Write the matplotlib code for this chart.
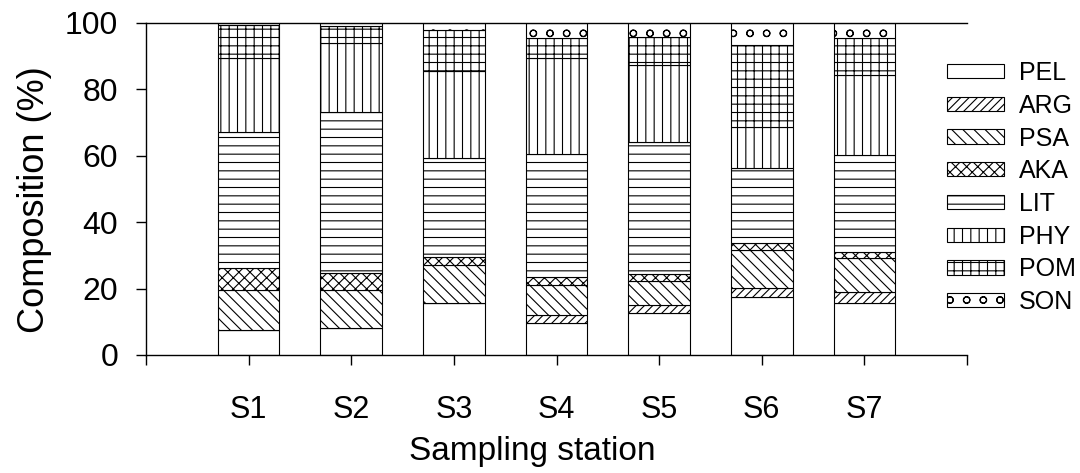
import numpy as np
import matplotlib.pyplot as plt

plt.rcParams.update({
    'font.family': ['Liberation Sans', 'DejaVu Sans'],
    'hatch.linewidth': 0.8,
    'hatch.color': 'black',
})

stations = ["S1", "S2", "S3", "S4", "S5", "S6", "S7"]
groups = ["PEL", "ARG", "PSA", "AKA", "LIT", "PHY", "POM", "SON"]

# composition (%) per station, bottom to top
PEL = [7.5, 8.0, 15.6, 9.5, 12.5, 17.6, 15.6]
ARG = [0.0, 0.0, 0.0, 2.5, 2.6, 2.7, 3.5]
PSA = [12.0, 11.5, 11.5, 9.1, 7.3, 11.3, 10.0]
AKA = [6.7, 5.3, 2.3, 2.3, 2.0, 2.0, 2.0]
LIT = [41.1, 48.3, 29.8, 37.0, 39.7, 22.6, 29.1]
PHY = [22.3, 20.8, 26.3, 29.0, 23.2, 12.6, 24.1]
POM = [9.9, 5.2, 12.4, 6.0, 8.4, 24.6, 11.3]
SON = [0.5, 0.9, 2.1, 4.6, 4.3, 6.6, 4.4]

series = [PEL, ARG, PSA, AKA, LIT, PHY, POM, SON]
hatches = ["", "////", "\\\\\\", "xxx", "--", "||", "++", "o"]

fig = plt.figure(figsize=(10.8, 4.73), dpi=100)
ax = fig.add_axes([0.1352, 0.2495, 0.7602, 0.7019])

x = np.arange(1, len(stations) + 1)
bottom = np.zeros(len(stations))
for name, vals, h in zip(groups, series, hatches):
    vals = np.array(vals)
    ax.bar(x, vals, width=0.6, bottom=bottom, color="white",
           edgecolor="black", linewidth=0.8, hatch=h, label=name)
    bottom += vals

ax.set_xlim(0, 8)
ax.set_ylim(0, 100)
ax.set_xticks(np.arange(0, 9))
ax.set_xticklabels([""] + stations + [""], fontsize=22)
ax.set_yticks(np.arange(0, 101, 20))
ax.set_yticklabels(["0", "20", "40", "60", "80", "100"], fontsize=23)
ax.tick_params(direction="out", length=7, width=1.0)
ax.tick_params(axis="x", pad=22)
ax.tick_params(axis="y", pad=13)
ax.spines['right'].set_visible(False)
for s in ['left', 'bottom', 'top']:
    ax.spines[s].set_linewidth(1.0)

ax.set_ylabel("Composition (%)", fontsize=26)
ax.yaxis.set_label_coords(-0.114, 0.467)
ax.set_xlabel("Sampling station", fontsize=24)
ax.xaxis.set_label_coords(0.47, -0.245)

handles, labels = ax.get_legend_handles_labels()
fig.legend(handles, labels, loc="upper left",
           bbox_to_anchor=(947 / 1080, (473 - 61) / 473),
           frameon=False, fontsize=18, handlelength=2.28, handleheight=0.5,
           handletextpad=0.6, labelspacing=0.35, borderpad=0, borderaxespad=0)

fig.savefig("out.png", dpi=100)
